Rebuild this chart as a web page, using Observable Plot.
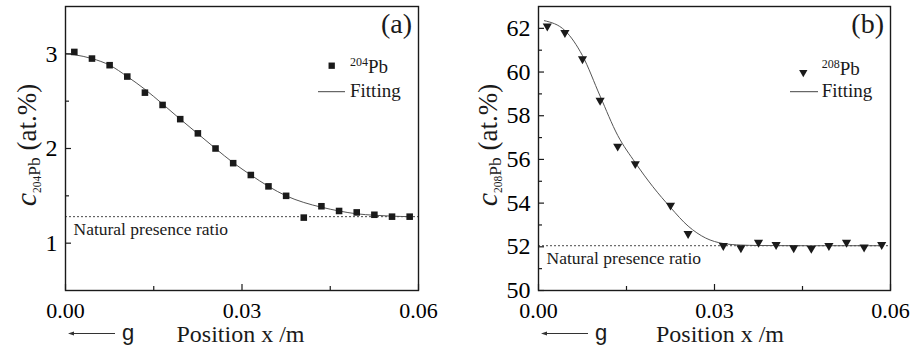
<!DOCTYPE html>
<html>
<head>
<meta charset="utf-8">
<script src="https://cdn.jsdelivr.net/npm/d3@7"></script>
<script src="https://cdn.jsdelivr.net/npm/@observablehq/plot@0.6"></script>
<style>
  html, body { margin: 0; padding: 0; background: #fff; }
  #wrap { position: relative; width: 912px; height: 349px; overflow: hidden; background: #fff; }
  #wrap svg { position: absolute; top: 0; }
</style>
</head>
<body>
<div id="wrap"></div>
<script>
// ---------- data ----------
// Panel (a): 204Pb
const xA = [0.0015, 0.0045, 0.0075, 0.0105, 0.0135, 0.0165, 0.0195, 0.0225, 0.0255, 0.0285,
            0.0315, 0.0345, 0.0375, 0.0405, 0.0435, 0.0465, 0.0495, 0.0525, 0.0555, 0.0585];
const cA = [3.02, 2.95, 2.88, 2.76, 2.59, 2.46, 2.31, 2.16, 2.00, 1.845,
            1.72, 1.60, 1.50, 1.27, 1.39, 1.34, 1.325, 1.30, 1.28, 1.28];
const fitXA = [0, 0.0015, 0.0045, 0.0075, 0.0105, 0.0135, 0.0165, 0.0195, 0.0225, 0.0255, 0.0285,
               0.0315, 0.0345, 0.0375, 0.0405, 0.0435, 0.0465, 0.0495, 0.0525, 0.0555, 0.0585];
const fitA  = [3.00, 2.99, 2.95, 2.88, 2.76, 2.625, 2.47, 2.31, 2.155, 2.00, 1.85,
               1.72, 1.60, 1.50, 1.43, 1.38, 1.34, 1.31, 1.295, 1.285, 1.28];
const naturalA = 1.28;

// Panel (b): 208Pb
const xB = [0.0015, 0.0045, 0.0075, 0.0105, 0.0135, 0.0165, 0.0225, 0.0255, 0.0315,
            0.0345, 0.0375, 0.0405, 0.0435, 0.0465, 0.0495, 0.0525, 0.0555, 0.0585];
const cB = [62.1, 61.8, 60.6, 58.7, 56.6, 55.8, 53.9, 52.6, 52.05,
            51.95, 52.2, 52.1, 51.95, 51.92, 52.05, 52.2, 51.98, 52.1];
const fitXB = [0.001, 0.0045, 0.0075, 0.0105, 0.0135, 0.0165, 0.0195, 0.0225, 0.0255,
               0.0285, 0.0315, 0.0345, 0.0375, 0.0435, 0.0585];
const fitB  = [62.35, 61.9, 60.75, 58.9, 57.1, 55.85, 54.75, 53.8, 52.95,
               52.4, 52.15, 52.08, 52.06, 52.05, 52.05];
const naturalB = 52.05;

// ticks
const xMajor = [0, 0.03, 0.06];
const xMinor = [0.015, 0.045];
const yMajorA = [1, 2, 3];
const yMinorA = [1.5, 2.5];
const yMajorB = [50, 52, 54, 56, 58, 60, 62];
const yMinorB = [51, 53, 55, 57, 59, 61];

// texts
const panelTags = ["(a)", "(b)"];
const isotopes = ["204", "208"];
const legendFit = "Fitting";
const naturalLabel = "Natural presence ratio";
const xLabel = "Position x /m";
const gLabel = "g";

// ---------- drawing ----------
const W = 456, H = 349;
const serif = "'Liberation Serif', 'Times New Roman', serif";

function panel(cfg) {
  const fw = W - cfg.ml - cfg.mr, fh = H - cfg.mt - cfg.mb;
  const pts = cfg.x.map((x, i) => ({x, y: cfg.y[i]}));
  const fit = cfg.fx.map((x, i) => ({x, y: cfg.fy[i]}));
  const ink = "#1a1a1a";
  const svg = Plot.plot({
    width: W, height: H,
    marginLeft: cfg.ml, marginRight: cfg.mr, marginTop: cfg.mt, marginBottom: cfg.mb,
    style: {fontFamily: serif, background: "white", color: "black", overflow: "visible"},
    x: {domain: [0, 0.06]},
    y: {domain: cfg.ydom},
    marks: [
      Plot.ruleY([cfg.natural], {stroke: "#333", strokeWidth: 0.9, strokeDasharray: "2,2"}),
      Plot.text([naturalLabel], {y: [cfg.natural], frameAnchor: "left", dx: 8, dy: 18,
        textAnchor: "start", lineAnchor: "bottom", fontSize: 17.5, fill: ink}),
      Plot.line(fit, {x: "x", y: "y", curve: "monotone-x", stroke: "#555", strokeWidth: 1}),
      Plot.dot(pts, {x: "x", y: "y", symbol: cfg.symbol, r: cfg.r, fill: ink, stroke: "none", rotate: cfg.rot}),
      Plot.tickX(xMajor, {x: d => d, insetTop: fh - 6, stroke: ink, strokeWidth: 1.2}),
      Plot.tickX(xMinor, {x: d => d, insetTop: fh - 4, stroke: ink, strokeWidth: 1.2}),
      Plot.tickY(cfg.yMajor, {y: d => d, insetRight: fw - 6, stroke: ink, strokeWidth: 1.2}),
      Plot.tickY(cfg.yMinor, {y: d => d, insetRight: fw - 4, stroke: ink, strokeWidth: 1.2}),
      Plot.axisX({ticks: xMajor, tickSize: 0, tickPadding: 12, tickFormat: d3.format(".2f"),
        fontSize: 22, label: null}),
      Plot.axisY({ticks: cfg.yMajor, tickSize: 0, tickPadding: 8, tickFormat: d => String(d),
        fontSize: 24, label: null}),
      Plot.frame({stroke: ink, strokeWidth: 1.4})
    ]
  });
  svg.style.left = cfg.left + "px";
  const s = d3.select(svg);
  const fx0 = cfg.ml, fx1 = W - cfg.mr;

  // panel tag
  s.append("text").attr("x", fx1 - 6).attr("y", 33).attr("text-anchor", "end")
    .attr("font-family", serif).attr("font-size", 28).attr("fill", ink).text(cfg.tag);

  // legend
  const L = cfg.leg;
  const sym = d3.symbol().type(cfg.symbol === "square" ? d3.symbolSquare : d3.symbolTriangle)
    .size(cfg.legSize);
  s.append("path").attr("d", sym()).attr("fill", ink)
    .attr("transform", `translate(${L.mx},${L.my}) rotate(${cfg.rot})`);
  const t1 = s.append("text").attr("x", L.tx).attr("y", L.ty).attr("text-anchor", "start")
    .attr("font-family", serif).attr("fill", ink);
  t1.append("tspan").attr("font-size", 12).attr("dy", -7).text(cfg.iso);
  t1.append("tspan").attr("font-size", 19).attr("dy", 7).text("Pb");
  s.append("line").attr("x1", L.lx1).attr("x2", L.lx2).attr("y1", 91.7).attr("y2", 91.7)
    .attr("stroke", "#444").attr("stroke-width", 1);
  s.append("text").attr("x", L.tx).attr("y", 97).attr("text-anchor", "start")
    .attr("font-family", serif).attr("font-size", 19).attr("fill", ink).text(legendFit);

  // y label
  const yl = s.append("text")
    .attr("transform", `translate(${cfg.ylx},${145}) rotate(-90)`)
    .attr("text-anchor", "middle").attr("font-family", serif).attr("fill", ink);
  yl.append("tspan").attr("font-style", "italic").attr("font-size", 30).text("c");
  yl.append("tspan").attr("font-size", 11.5).attr("dy", 5).text(cfg.iso);
  yl.append("tspan").attr("font-size", 17.5).attr("dy", -1).text("Pb");
  yl.append("tspan").attr("font-size", 27).attr("dy", -4).text("\u00a0(at.%)");

  // x label
  s.append("text").attr("x", (fx0 + fx1) / 2 + cfg.xlShift).attr("y", 342)
    .attr("text-anchor", "middle").attr("font-family", serif).attr("font-size", 24)
    .attr("fill", ink).text(xLabel);

  // gravity arrow
  const ax0 = fx0 + 3, ax1 = fx0 + 50, ay = 333.5;
  s.append("line").attr("x1", ax0 + 4).attr("x2", ax1).attr("y1", ay).attr("y2", ay)
    .attr("stroke", "#333").attr("stroke-width", 1);
  s.append("path").attr("d", `M${ax0},${ay} L${ax0 + 6},${ay - 2} L${ax0 + 6},${ay + 2} Z`)
    .attr("fill", "#333");
  s.append("text").attr("x", fx0 + 57).attr("y", 339.5).attr("text-anchor", "start")
    .attr("font-family", "'Liberation Sans', Arial, sans-serif").attr("font-size", 22)
    .attr("fill", ink).text(gLabel);

  document.getElementById("wrap").appendChild(svg);
}

panel({
  left: 0, ml: 65, mr: 38, mt: 6, mb: 59, ydom: [0.5, 3.5],
  x: xA, y: cA, fx: fitXA, fy: fitA, natural: naturalA,
  symbol: "square", r: 3.7, rot: 0, legSize: 40,
  yMajor: yMajorA, yMinor: yMinorA, tag: panelTags[0], iso: isotopes[0],
  leg: {mx: 331.7, my: 65.7, tx: 350, ty: 72.7, lx1: 318, lx2: 345},
  ylx: 36, xlShift: -1
});
panel({
  left: 456, ml: 82, mr: 22, mt: 6, mb: 59, ydom: [50, 63],
  x: xB, y: cB, fx: fitXB, fy: fitB, natural: naturalB,
  symbol: "triangle", r: 3.4, rot: 180, legSize: 30,
  yMajor: yMajorB, yMinor: yMinorB, tag: panelTags[1], iso: isotopes[1],
  leg: {mx: 347.3, my: 72.5, tx: 365.7, ty: 74.5, lx1: 334, lx2: 362},
  ylx: 41, xlShift: 6
});
</script>
</body>
</html>
